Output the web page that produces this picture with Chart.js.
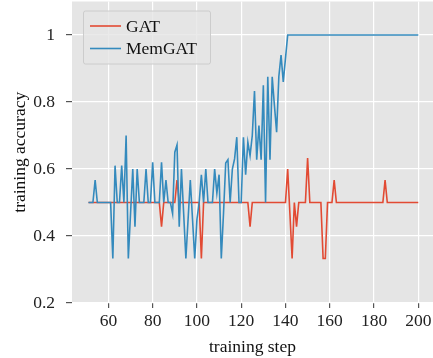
<!DOCTYPE html>
<html>
<head>
<meta charset="utf-8">
<script src="https://cdn.jsdelivr.net/npm/chart.js@4.4.1/dist/chart.umd.min.js"></script>
<style>
  html, body { margin: 0; padding: 0; background: #fff; overflow: hidden; }
  canvas { display: block; }
</style>
</head>
<body>
<canvas id="myChart" width="433" height="358"></canvas>
<script>
// training steps 51..200, one value per step
var firstStep = 51;

var gatAcc = [
    0.5, 0.5, 0.5, 0.5, 0.5, 0.5, 0.5, 0.5, 0.5, 0.5,       // 51-60
    0.5, 0.5, 0.5, 0.5, 0.5, 0.5, 0.5, 0.5, 0.5, 0.5,       // 61-70
    0.5, 0.5, 0.5, 0.5, 0.5, 0.5, 0.5, 0.5, 0.5, 0.5,       // 71-80
    0.5, 0.5, 0.5, 0.428, 0.5, 0.5, 0.5, 0.5, 0.5, 0.5,     // 81-90
    0.567, 0.5, 0.5, 0.5, 0.5, 0.5, 0.5, 0.5, 0.5, 0.5,     // 91-100
    0.5, 0.333, 0.5, 0.5, 0.5, 0.5, 0.5, 0.5, 0.5, 0.5,     // 101-110
    0.5, 0.5, 0.5, 0.5, 0.5, 0.5, 0.5, 0.5, 0.5, 0.5,       // 111-120
    0.5, 0.5, 0.5, 0.428, 0.5, 0.5, 0.5, 0.5, 0.5, 0.5,     // 121-130
    0.5, 0.5, 0.5, 0.5, 0.5, 0.5, 0.5, 0.5, 0.5, 0.5,       // 131-140
    0.6, 0.467, 0.333, 0.5, 0.428, 0.5, 0.5, 0.5, 0.5, 0.633, // 141-150
    0.5, 0.5, 0.5, 0.5, 0.5, 0.5, 0.333, 0.333, 0.5, 0.5,   // 151-160
    0.5, 0.567, 0.5, 0.5, 0.5, 0.5, 0.5, 0.5, 0.5, 0.5,     // 161-170
    0.5, 0.5, 0.5, 0.5, 0.5, 0.5, 0.5, 0.5, 0.5, 0.5,       // 171-180
    0.5, 0.5, 0.5, 0.5, 0.567, 0.5, 0.5, 0.5, 0.5, 0.5,     // 181-190
    0.5, 0.5, 0.5, 0.5, 0.5, 0.5, 0.5, 0.5, 0.5, 0.5        // 191-200
];

var memgatAcc = [
    0.5, 0.5, 0.5, 0.567, 0.5, 0.5, 0.5, 0.5, 0.5, 0.5,         // 51-60
    0.5, 0.333, 0.61, 0.5, 0.5, 0.61, 0.5, 0.7, 0.333, 0.467,   // 61-70
    0.6, 0.428, 0.6, 0.5, 0.5, 0.5, 0.6, 0.5, 0.5, 0.62,        // 71-80
    0.5, 0.5, 0.5, 0.62, 0.5, 0.567, 0.5, 0.5, 0.467, 0.65,     // 81-90
    0.672, 0.428, 0.6, 0.467, 0.333, 0.45, 0.567, 0.45, 0.333, 0.45, // 91-100
    0.5, 0.583, 0.5, 0.6, 0.5, 0.5, 0.5, 0.6, 0.528, 0.583,     // 101-110
    0.333, 0.467, 0.618, 0.628, 0.5, 0.6, 0.63, 0.695, 0.5, 0.5, // 111-120
    0.695, 0.583, 0.68, 0.64, 0.7, 0.833, 0.628, 0.73, 0.628, 0.85, // 121-130
    0.5, 0.875, 0.628, 0.875, 0.79, 0.71, 0.876, 0.94, 0.86, 0.93,  // 131-140
    1, 1, 1, 1, 1, 1, 1, 1, 1, 1,     // 141-150
    1, 1, 1, 1, 1, 1, 1, 1, 1, 1,     // 151-160
    1, 1, 1, 1, 1, 1, 1, 1, 1, 1,     // 161-170
    1, 1, 1, 1, 1, 1, 1, 1, 1, 1,     // 171-180
    1, 1, 1, 1, 1, 1, 1, 1, 1, 1,     // 181-190
    1, 1, 1, 1, 1, 1, 1, 1, 1, 1      // 191-200
];

var seriesNames = ['GAT', 'MemGAT'];
var seriesColors = ['#E24A33', '#348ABD'];
var xTicks = [60, 80, 100, 120, 140, 160, 180, 200];
var yTicks = [0.2, 0.4, 0.6, 0.8, 1];

function toPoints(arr) {
    var pts = [];
    for (var i = 0; i < arr.length; i++) {
        pts.push({x: firstStep + i, y: arr[i]});
    }
    return pts;
}

Chart.defaults.font.family = '"Liberation Serif", "Times New Roman", serif';
Chart.defaults.font.size = 17.5;
Chart.defaults.color = '#222';

// grey panel behind the plot
var panelBg = {
    id: 'panelBg',
    beforeDraw: function(chart) {
        var a = chart.chartArea, ctx = chart.ctx;
        ctx.save();
        ctx.fillStyle = '#E5E5E5';
        ctx.fillRect(a.left, a.top, a.right - a.left, a.bottom - a.top);
        ctx.restore();
    }
};

// legend box in the upper left corner, like matplotlib
var boxLegend = {
    id: 'boxLegend',
    afterDraw: function(chart) {
        var ctx = chart.ctx;
        var x0 = 83.5, y0 = 11, w = 127, h = 53;
        ctx.save();
        ctx.beginPath();
        ctx.roundRect(x0, y0, w, h, 2);
        ctx.fillStyle = 'rgba(229,229,229,0.8)';
        ctx.fill();
        ctx.lineWidth = 1;
        ctx.strokeStyle = '#CCCCCC';
        ctx.stroke();

        ctx.font = '17.5px "Liberation Serif", "Times New Roman", serif';
        ctx.textBaseline = 'middle';
        ctx.textAlign = 'left';
        var rows = [26, 48.5];
        for (var i = 0; i < seriesNames.length; i++) {
            ctx.beginPath();
            ctx.moveTo(90, rows[i]);
            ctx.lineTo(121, rows[i]);
            ctx.strokeStyle = seriesColors[i];
            ctx.lineWidth = 1.6;
            ctx.stroke();
            ctx.fillStyle = '#111';
            ctx.fillText(seriesNames[i], 126, rows[i] + 1);
        }
        ctx.restore();
    }
};

var ctx = document.getElementById('myChart').getContext('2d');
var myChart = new Chart(ctx, {
    type: 'line',
    data: {
        datasets: [{
            label: seriesNames[0],
            data: toPoints(gatAcc),
            borderColor: seriesColors[0],
            borderWidth: 1.6,
            pointRadius: 0,
            tension: 0,
            order: 1
        }, {
            label: seriesNames[1],
            data: toPoints(memgatAcc),
            borderColor: seriesColors[1],
            borderWidth: 1.6,
            pointRadius: 0,
            tension: 0,
            order: 0
        }]
    },
    options: {
        responsive: false,
        animation: false,
        layout: {
            padding: {top: 1.5, right: 0, bottom: 0, left: 0}
        },
        plugins: {
            legend: {display: false},
            tooltip: {enabled: false}
        },
        scales: {
            x: {
                type: 'linear',
                min: 43.55,
                max: 206.65,
                afterBuildTicks: function(scale) {
                    scale.ticks = xTicks.map(function(v) { return {value: v}; });
                },
                afterFit: function(scale) {
                    scale.height = 55;
                    scale.paddingLeft = 0;
                    scale.paddingRight = 0;
                },
                grid: {
                    color: '#FFFFFF',
                    lineWidth: 1.2,
                    tickColor: '#555555',
                    tickLength: 5,
                    drawTicks: true
                },
                border: {display: false},
                ticks: {
                    padding: 3,
                    color: '#222',
                    maxRotation: 0,
                    callback: function(v) { return String(v); }
                },
                title: {
                    display: true,
                    text: 'training step',
                    color: '#111',
                    padding: {top: 0, bottom: 0}
                }
            },
            y: {
                type: 'linear',
                min: 0.2,
                max: 1.1,
                afterBuildTicks: function(scale) {
                    scale.ticks = yTicks.map(function(v) { return {value: v}; });
                },
                afterFit: function(scale) {
                    scale.width = 72;
                    scale.paddingTop = 0;
                    scale.paddingBottom = 0;
                },
                grid: {
                    color: '#FFFFFF',
                    lineWidth: 1.2,
                    tickColor: '#555555',
                    tickLength: 6,
                    drawTicks: true
                },
                border: {display: false},
                ticks: {
                    padding: 11,
                    color: '#222',
                    callback: function(v) { return String(v); }
                },
                title: {
                    display: true,
                    text: 'training accuracy',
                    color: '#111',
                    padding: {top: 10, bottom: 0}
                }
            }
        }
    },
    plugins: [panelBg, boxLegend]
});
</script>
</body>
</html>
